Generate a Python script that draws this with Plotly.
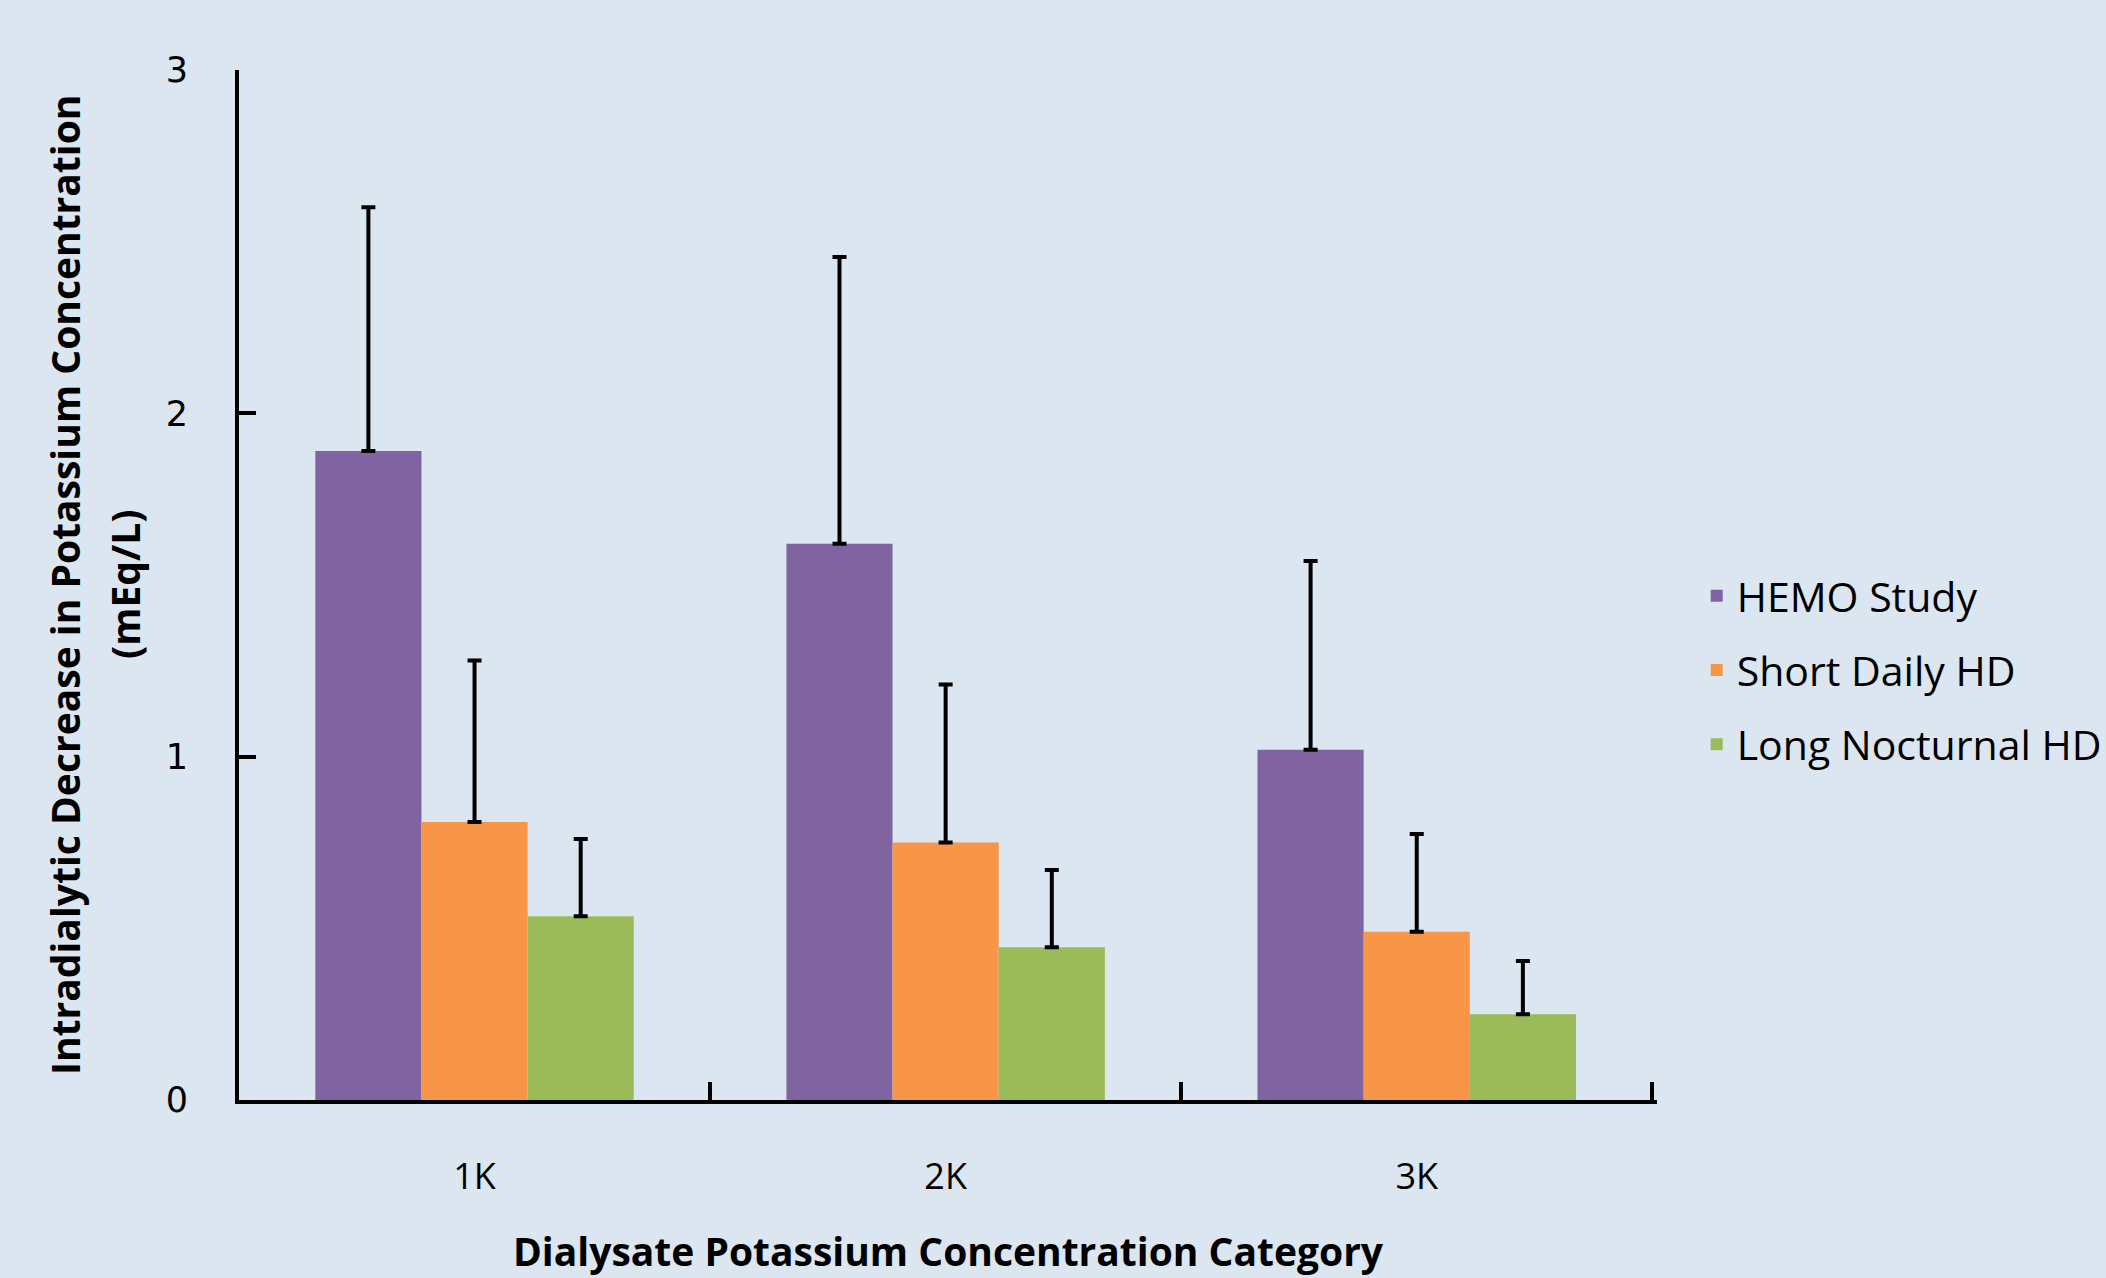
import plotly.graph_objects as go

categories = ["1K", "2K", "3K"]
series_names = ["HEMO Study", "Short Daily HD", "Long Nocturnal HD"]
hemo_values = [1.89, 1.62, 1.02]
short_values = [0.81, 0.75, 0.49]
long_values = [0.535, 0.445, 0.25]
hemo_err = [0.71, 0.835, 0.55]
short_err = [0.47, 0.46, 0.285]
long_err = [0.225, 0.225, 0.155]
y_ticks = [0, 1, 2, 3]
y_title_lines = ["Intradialytic Decrease in Potassium Concentration", "(mEq/L)"]
x_title = "Dialysate Potassium Concentration Category"

colors = ["#8064A2", "#F79646", "#9BBB59"]
BG = "#DCE6F1"
FONT = "'Open Sans', Lato, sans-serif"

fig = go.Figure()
for i, (name, vals, errs) in enumerate(zip(series_names,
                                          [hemo_values, short_values, long_values],
                                          [hemo_err, short_err, long_err])):
    fig.add_trace(go.Bar(
        x=categories, y=vals, name=name,
        marker=dict(color=colors[i], line=dict(width=0)),
        error_y=dict(type="data", array=errs, arrayminus=[0] * len(errs),
                     symmetric=False, color="black", thickness=4, width=7),
        legendgroup=f"g{i}",
    ))

for text, shift in zip(y_title_lines, [-175, -115]):
    fig.add_annotation(
        text=f"<b>{text}</b>", textangle=-90,
        xref="paper", yref="paper", x=0, y=0.5,
        xanchor="center", yanchor="middle", xshift=shift,
        showarrow=False, font=dict(size=39, family=FONT, color="black"),
    )

fig.update_layout(
    width=2106, height=1278,
    paper_bgcolor=BG, plot_bgcolor=BG,
    barmode="group", bargap=0.324, bargroupgap=0,
    margin=dict(l=239, r=449, t=70, b=178, autoexpand=False),
    font=dict(family=FONT, color="black"),
    legend=dict(x=1.028, y=0.4175, xanchor="left", yanchor="middle",
                font=dict(size=41, family=FONT, color="black"),
                tracegroupgap=18, bgcolor="rgba(0,0,0,0)",
                itemwidth=30),
    xaxis=dict(
        type="category", tickson="boundaries", ticks="inside",
        ticklen=18, tickwidth=4, tickcolor="black",
        showline=True, linewidth=4, linecolor="black",
        showgrid=False, zeroline=False, range=[-0.5, 2.51],
        tickfont=dict(size=36, family=FONT, color="black"),
        ticklabelstandoff=42,
        title=dict(text=f"<b>{x_title}</b>",
                   font=dict(size=39, family=FONT, color="black"), standoff=40),
    ),
    yaxis=dict(
        range=[0, 3], tickvals=y_ticks, ticks="inside",
        ticklen=17, tickwidth=4, tickcolor="black",
        showline=True, linewidth=4, linecolor="black",
        showgrid=False, zeroline=False,
        tickfont=dict(size=35, family="'DejaVu Sans', sans-serif", color="black"),
        ticklabelstandoff=40,
    ),
)

fig.write_html(
    "out.html",
    config={"displayModeBar": False},
    post_script="document.body.style.margin='0';document.body.style.background='" + BG + "';",
)
